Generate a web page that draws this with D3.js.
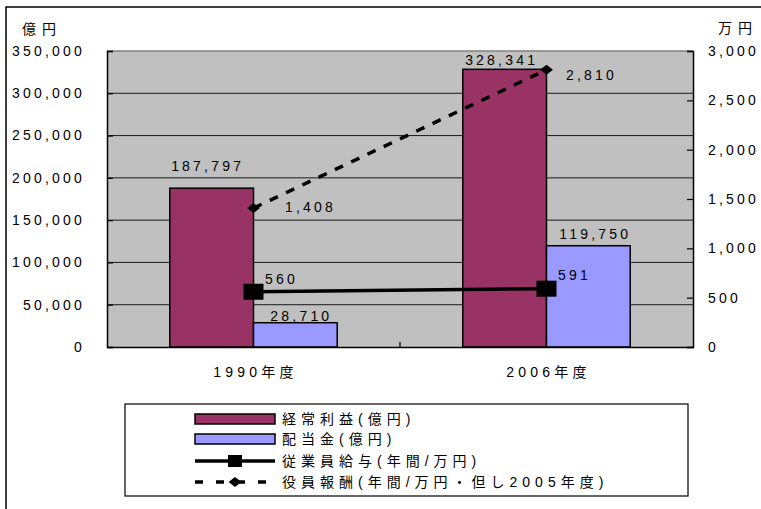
<!DOCTYPE html>
<html lang="ja">
<head>
<meta charset="UTF-8">
<script src="https://d3js.org/d3.v7.min.js"></script>
<style>
  body { margin: 0; background: #fff; }
  svg text {
    font-family: "Liberation Sans", Arial, "Noto Sans CJK JP", sans-serif;
    font-size: 14px;
    letter-spacing: 3.2px;
    fill: #000;
  }
  svg text.cjk { letter-spacing: 4.2px; }
  svg text.lbl { letter-spacing: 5px; }
</style>
</head>
<body>
<svg width="761" height="509"></svg>
<script>
const categories = ["1990年度", "2006年度"];
const profit = [187797, 328341];      // 経常利益(億円)
const dividend = [28710, 119750];     // 配当金(億円)
const salary = [560, 591];            // 従業員給与(年間/万円)
const execPay = [1408, 2810];         // 役員報酬(年間/万円・但し2005年度)
const leftTicks = [0, 50000, 100000, 150000, 200000, 250000, 300000, 350000];
const rightTicks = [0, 500, 1000, 1500, 2000, 2500, 3000];
const legendNames = ["経常利益(億円)", "配当金(億円)", "従業員給与(年間/万円)", "役員報酬(年間/万円・但し2005年度)"];

// label nudges (px) relative to bar top / point
const nudge = {
  profit: [[-4, -22], [-3, -9]],
  dividend: [[6, -7], [7, -12]],
  salary: [[28, -13], [28, -14]],
  execPay: [[57, -1], [45, 5]]
};

const svg = d3.select("svg");
const plot = {left: 107, right: 693, top: 51, bottom: 347};
const fmt = d3.format(",");

// outer frame (only top and left edges visible)
svg.append("path")
  .attr("d", "M6,509V7H761")
  .attr("fill", "none").attr("stroke", "#000").attr("stroke-width", 1.5);

const x = d3.scaleBand().domain(categories).range([plot.left, plot.right]).padding(0);
const yL = d3.scaleLinear().domain([0, 350000]).range([plot.bottom, plot.top]);
const yR = d3.scaleLinear().domain([0, 3000]).range([plot.bottom, plot.top]);

const barW = x.bandwidth() / 3.5;
const cx = c => x(c) + x.bandwidth() / 2;

// plot background
svg.append("rect")
  .attr("x", plot.left).attr("y", plot.top)
  .attr("width", plot.right - plot.left).attr("height", plot.bottom - plot.top)
  .attr("fill", "#c0c0c0");

// gridlines
svg.append("g").selectAll("line")
  .data(leftTicks.slice(1, -1))
  .join("line")
  .attr("x1", plot.left).attr("x2", plot.right)
  .attr("y1", d => yL(d)).attr("y2", d => yL(d))
  .attr("stroke", "#1a1a1a").attr("stroke-width", 1);

svg.append("line")
  .attr("x1", plot.left).attr("x2", plot.right)
  .attr("y1", plot.top).attr("y2", plot.top)
  .attr("stroke", "#808080").attr("stroke-width", 1.5);

// bars
const bars = svg.append("g");
bars.selectAll("rect.profit")
  .data(categories)
  .join("rect")
  .attr("class", "profit")
  .attr("x", c => cx(c) - barW).attr("width", barW)
  .attr("y", (c, i) => yL(profit[i])).attr("height", (c, i) => yL(0) - yL(profit[i]))
  .attr("fill", "#993366").attr("stroke", "#000").attr("stroke-width", 1.5);
bars.selectAll("rect.dividend")
  .data(categories)
  .join("rect")
  .attr("class", "dividend")
  .attr("x", c => cx(c)).attr("width", barW)
  .attr("y", (c, i) => yL(dividend[i])).attr("height", (c, i) => yL(0) - yL(dividend[i]))
  .attr("fill", "#9999ff").attr("stroke", "#000").attr("stroke-width", 1.5);

// axes
const axL = svg.append("g").attr("transform", `translate(${plot.left},0)`)
  .call(d3.axisRight(yL).tickValues(leftTicks).tickSize(6).tickFormat(""));
const axR = svg.append("g").attr("transform", `translate(${plot.right},0)`)
  .call(d3.axisLeft(yR).tickValues(rightTicks).tickSize(6).tickFormat(""));
[axL, axR].forEach(a => {
  a.select(".domain").attr("stroke", "#000").attr("stroke-width", 1.5);
  a.selectAll(".tick line").attr("stroke", "#000").attr("stroke-width", 1.2);
});
svg.append("g").attr("transform", `translate(0,${plot.bottom})`)
  .call(d3.axisTop(x).tickValues([]).tickSizeOuter(0))
  .call(g => g.select(".domain").attr("stroke", "#000").attr("stroke-width", 1.5));
// category boundary tick
svg.append("line")
  .attr("x1", x(categories[1])).attr("x2", x(categories[1]))
  .attr("y1", plot.bottom).attr("y2", plot.bottom - 5)
  .attr("stroke", "#000").attr("stroke-width", 1.2);

// tick labels
svg.append("g").selectAll("text")
  .data(leftTicks).join("text")
  .attr("x", 85).attr("y", d => yL(d)).attr("dy", "0.35em")
  .attr("text-anchor", "end")
  .text(d => fmt(d));
svg.append("g").selectAll("text")
  .data(rightTicks).join("text")
  .attr("x", 708).attr("y", d => yR(d)).attr("dy", "0.35em")
  .text(d => fmt(d));
svg.append("g").selectAll("text")
  .data(categories).join("text")
  .attr("class", "cjk")
  .attr("x", c => cx(c) + 2).attr("y", 372).attr("dy", "0.35em")
  .attr("text-anchor", "middle")
  .text(c => c);

svg.append("text").attr("x", 22).attr("y", 29).attr("dy", "0.35em").style("letter-spacing", "6px").text("億円");
svg.append("text").attr("x", 718).attr("y", 28).attr("dy", "0.35em").style("letter-spacing", "6px").text("万円");

// lines
const lineR = d3.line().x((d, i) => cx(categories[i])).y(d => yR(d));
svg.append("path").datum(salary)
  .attr("d", lineR).attr("fill", "none").attr("stroke", "#000").attr("stroke-width", 3.5);
svg.append("path").datum(execPay)
  .attr("d", lineR).attr("fill", "none").attr("stroke", "#000").attr("stroke-width", 3.5)
  .attr("stroke-dasharray", "9,9");

svg.append("g").selectAll("rect")
  .data(salary).join("rect")
  .attr("x", (d, i) => cx(categories[i]) - 10).attr("y", d => yR(d) - 8)
  .attr("width", 20).attr("height", 16).attr("fill", "#000");
svg.append("g").selectAll("path")
  .data(execPay).join("path")
  .attr("transform", (d, i) => `translate(${cx(categories[i])},${yR(d)})`)
  .attr("d", "M-6.5,0L0,-5L6.5,0L0,5Z").attr("fill", "#000");

// value labels
const labels = svg.append("g").attr("text-anchor", "middle");
categories.forEach((c, i) => {
  const add = (x0, y0, n, v) => labels.append("text")
    .attr("x", x0 + n[0]).attr("y", y0 + n[1]).attr("dy", "0.35em").text(fmt(v));
  add(cx(c) - barW / 2, yL(profit[i]), nudge.profit[i], profit[i]);
  add(cx(c) + barW / 2, yL(dividend[i]), nudge.dividend[i], dividend[i]);
  add(cx(c), yR(salary[i]), nudge.salary[i], salary[i]);
  add(cx(c), yR(execPay[i]), nudge.execPay[i], execPay[i]);
});

// legend
const lg = svg.append("g");
lg.append("rect").attr("x", 125).attr("y", 404).attr("width", 563).attr("height", 92)
  .attr("fill", "#fff").attr("stroke", "#000").attr("stroke-width", 1.2);
const rowY = [419, 439, 461, 482];
const sx0 = 195, sx1 = 275;
lg.append("rect").attr("x", sx0).attr("y", rowY[0] - 5).attr("width", sx1 - sx0).attr("height", 10)
  .attr("fill", "#993366").attr("stroke", "#000").attr("stroke-width", 1.5);
lg.append("rect").attr("x", sx0).attr("y", rowY[1] - 5).attr("width", sx1 - sx0).attr("height", 10)
  .attr("fill", "#9999ff").attr("stroke", "#000").attr("stroke-width", 1.5);
lg.append("line").attr("x1", sx0).attr("x2", sx1).attr("y1", rowY[2]).attr("y2", rowY[2])
  .attr("stroke", "#000").attr("stroke-width", 3.5);
lg.append("rect").attr("x", (sx0 + sx1) / 2 - 7).attr("y", rowY[2] - 6).attr("width", 14).attr("height", 12).attr("fill", "#000");
lg.append("line").attr("x1", sx0).attr("x2", sx1).attr("y1", rowY[3]).attr("y2", rowY[3])
  .attr("stroke", "#000").attr("stroke-width", 3.5).attr("stroke-dasharray", "8,13");
lg.append("path").attr("transform", `translate(${(sx0 + sx1) / 2},${rowY[3]})`)
  .attr("d", "M-6.5,0L0,-5L6.5,0L0,5Z").attr("fill", "#000");
lg.selectAll("text.lbl").data(legendNames).join("text")
  .attr("class", "lbl")
  .attr("x", 282).attr("y", (d, i) => rowY[i]).attr("dy", "0.35em")
  .text(d => d);
</script>
</body>
</html>
